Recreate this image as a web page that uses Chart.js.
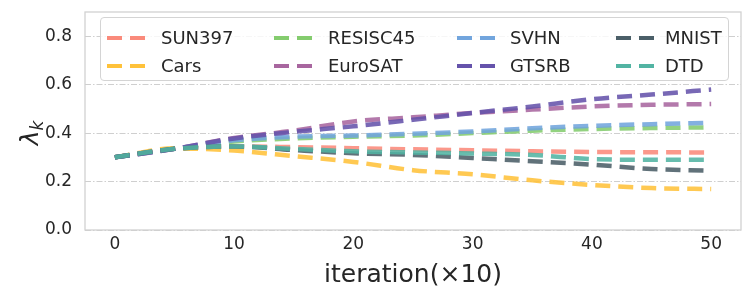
<!DOCTYPE html>
<html>
<head>
<meta charset="utf-8">
<script src="https://cdn.jsdelivr.net/npm/chart.js@4/dist/chart.umd.min.js"></script>
<style>
  html, body { margin: 0; padding: 0; background: #fff; }
  .wrap { position: relative; width: 753px; height: 304px; font-family: "DejaVu Sans", sans-serif; color: #262626; }
  canvas { position: absolute; left: 0; top: 0; }
  .legend {
    position: absolute; left: 100px; top: 17px; width: 629px; height: 64px;
    box-sizing: border-box; border: 1px solid #d4d4d4; border-radius: 4px;
    background: rgba(255,255,255,0.8);
  }
  .item { position: absolute; height: 24px; line-height: 24px; font-size: 18px; white-space: nowrap; }
  .item .sw { position: absolute; left: 0; top: 10px; width: 39px; height: 4px; }
  .item .sw i { position: absolute; top: 0; height: 4px; width: 15px; }
  .item span { position: absolute; }
  .ytitle {
    position: absolute; left: 12px; top: 118px; width: 36px; height: 30px;
    font-size: 25px; line-height: 30px; text-align: center;
    transform: rotate(-90deg); white-space: nowrap;
  }
  .ytitle sub { font-size: 17px; vertical-align: -5px; }
</style>
</head>
<body>
<div class="wrap">
  <canvas id="c" width="753" height="304"></canvas>
  <div class="legend" id="legend"></div>
  <div class="ytitle"><i>λ</i><sub><i>k</i></sub></div>
</div>
<script>
const iterations = [0, 5, 10, 15, 20, 25, 30, 35, 40, 45, 50];
const taskNames = ['SUN397', 'Cars', 'RESISC45', 'EuroSAT', 'SVHN', 'GTSRB', 'MNIST', 'DTD'];
const sun397 =   [0.30, 0.335, 0.345, 0.342, 0.338, 0.333, 0.329, 0.325, 0.322, 0.321, 0.320];
const cars =     [0.30, 0.337, 0.328, 0.305, 0.281, 0.247, 0.230, 0.205, 0.186, 0.173, 0.169];
const resisc45 = [0.30, 0.335, 0.365, 0.378, 0.385, 0.390, 0.400, 0.410, 0.417, 0.421, 0.424];
const eurosat =  [0.30, 0.335, 0.380, 0.410, 0.448, 0.465, 0.483, 0.497, 0.510, 0.517, 0.520];
const svhn =     [0.30, 0.335, 0.370, 0.385, 0.390, 0.397, 0.407, 0.420, 0.430, 0.437, 0.443];
const gtsrb =    [0.30, 0.335, 0.378, 0.405, 0.428, 0.455, 0.483, 0.510, 0.540, 0.559, 0.580];
const mnist =    [0.30, 0.335, 0.345, 0.330, 0.317, 0.310, 0.297, 0.284, 0.270, 0.252, 0.245];
const dtd =      [0.30, 0.335, 0.345, 0.335, 0.325, 0.320, 0.316, 0.310, 0.293, 0.290, 0.290];
const xTicks = [0, 10, 20, 30, 40, 50];
const yTicks = [0.0, 0.2, 0.4, 0.6, 0.8];

const series = [sun397, cars, resisc45, eurosat, svhn, gtsrb, mnist, dtd];
const colors = ['#fa8a7b', '#ffc23a', '#84cc6e', '#a8669f', '#72a5dd', '#6553ab', '#4b5f68', '#52b4a3'];

const datasets = taskNames.map((name, i) => ({
  label: name,
  data: iterations.map((x, j) => ({ x: x, y: series[i][j] })),
  borderColor: colors[i] + 'e0',
  borderWidth: 4.5,
  borderDash: [15, 8],
  borderCapStyle: 'butt',
  pointRadius: 0,
  cubicInterpolationMode: 'monotone',
  fill: false,
  order: taskNames.length - i
}));

// legend, 4 columns filled column by column
const legendEl = document.getElementById('legend');
const colLeft = [6, 173, 356, 515];
const textLeft = [60, 227, 409, 564];
const rowTop = [8, 36];
taskNames.forEach((name, i) => {
  const col = Math.floor(i / 2), row = i % 2;
  const item = document.createElement('div');
  item.className = 'item';
  item.style.left = colLeft[col] + 'px';
  item.style.top = rowTop[row] + 'px';
  item.innerHTML = '<div class="sw"><i style="left:0;background:' + colors[i] + '"></i><i style="left:23px;background:' + colors[i] + '"></i></div>' +
    '<span style="left:' + (textLeft[col] - colLeft[col]) + 'px">' + name + '</span>';
  legendEl.appendChild(item);
});

const framePlugin = {
  id: 'frame',
  afterDraw(chart) {
    const a = chart.chartArea, ctx = chart.ctx;
    ctx.save();
    ctx.strokeStyle = '#d2d2d2';
    ctx.lineWidth = 1.3;
    ctx.strokeRect(a.left, a.top, a.right - a.left, a.bottom - a.top);
    ctx.restore();
  }
};

new Chart(document.getElementById('c'), {
  type: 'line',
  data: { datasets: datasets },
  plugins: [framePlugin],
  options: {
    responsive: false,
    animation: false,
    layout: { padding: { top: 12, right: 12, left: 0, bottom: 0 } },
    plugins: { legend: { display: false }, tooltip: { enabled: false } },
    scales: {
      x: {
        type: 'linear',
        min: -2.5,
        max: 52.5,
        afterBuildTicks: s => { s.ticks = xTicks.map(v => ({ value: v })); },
        afterFit: s => { s.height = 74; s.paddingLeft = 0; s.paddingRight = 0; },
        grid: { display: false, drawTicks: false },
        border: { display: false },
        ticks: {
          padding: 4,
          color: '#262626',
          font: { family: 'DejaVu Sans', size: 17 },
          maxRotation: 0
        },
        title: {
          display: true,
          text: 'iteration(×10)',
          color: '#262626',
          font: { family: 'DejaVu Sans', size: 25 },
          padding: { top: 0, bottom: 14 }
        }
      },
      y: {
        type: 'linear',
        min: 0,
        max: 0.9,
        afterBuildTicks: s => { s.ticks = yTicks.map(v => ({ value: v })); },
        afterFit: s => { s.width = 85; s.paddingTop = 0; s.paddingBottom = 0; },
        grid: { color: '#cfcfcf', lineWidth: 1, drawTicks: false },
        border: { display: false, dash: [6, 2, 1.5, 2] },
        ticks: {
          padding: 13,
          color: '#262626',
          font: { family: 'DejaVu Sans', size: 17 },
          callback: v => v.toFixed(1)
        }
      }
    }
  }
});
</script>
</body>
</html>
